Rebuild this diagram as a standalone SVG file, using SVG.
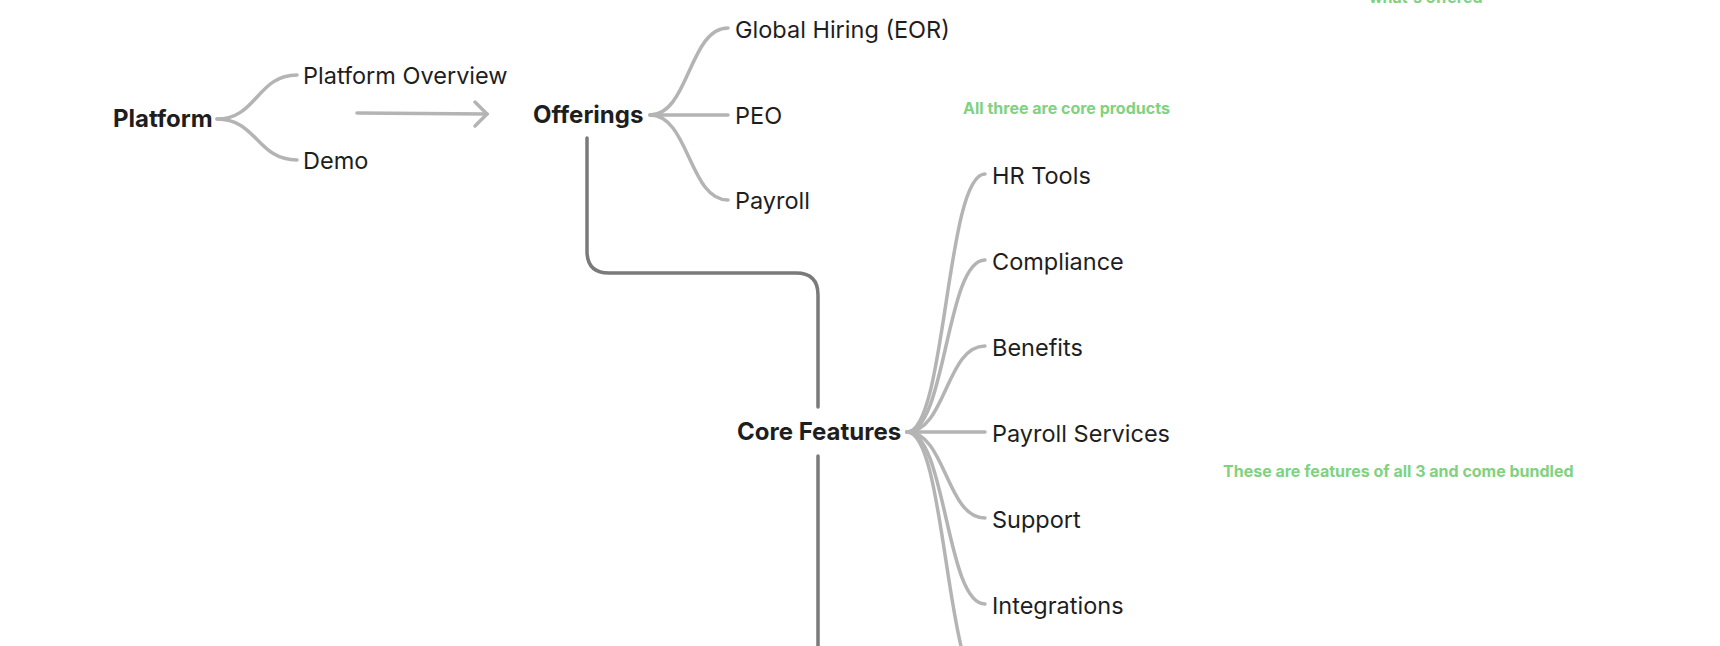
<svg xmlns="http://www.w3.org/2000/svg" width="1720" height="646" viewBox="0 0 1720 646">
<style>
.bold{font-family:Inter,"Liberation Sans",sans-serif;font-weight:700;font-size:24px;fill:#1e1e1e}
.reg{font-family:Inter,"Liberation Sans",sans-serif;font-weight:400;font-size:23.5px;fill:#1e1e1e}
.note{font-family:Inter,"Liberation Sans",sans-serif;font-weight:700;font-size:16px;fill:#80d27f}
.br{fill:none;stroke:#b4b4b4;stroke-width:3.5;stroke-linecap:round}
.main{fill:none;stroke:#7a7a7a;stroke-width:3.5;stroke-linecap:round}
</style>
<rect width="1720" height="646" fill="#ffffff"/>
<g id="connectors">
<path class="br" d="M217 119 C257 119 257 75 297 75"/>
<path class="br" d="M217 119 C257 119 257 160 297 160"/>
<path class="br" d="M357 113 L487 114"/>
<path class="br" d="M475 102 L487 114 L475 126"/>
<path class="br" d="M650 115 C689 115 689 28 728 28"/>
<path class="br" d="M650 115 L728 115"/>
<path class="br" d="M650 115 C689 115 689 200 728 200"/>
<path class="main" d="M587 138 V251 Q587 273 609 273 H796 Q818 273 818 295 V407"/>
<path class="main" d="M818 456 V660"/>
<path class="br" d="M907 432 C946 432 946 174 985 174"/>
<path class="br" d="M907 432 C946 432 946 260 985 260"/>
<path class="br" d="M907 432 C946 432 946 346 985 346"/>
<path class="br" d="M907 432 L985 432"/>
<path class="br" d="M907 432 C946 432 946 518 985 518"/>
<path class="br" d="M907 432 C946 432 946 604 985 604"/>
<path class="br" d="M907 432 C946 432 946 690 985 690"/>
</g>
<g id="platform"><text class="bold" x="113" y="127">Platform</text></g>
<g id="platform-overview"><text class="reg" x="303" y="84">Platform Overview</text></g>
<g id="demo"><text class="reg" x="303" y="169">Demo</text></g>
<g id="offerings"><text class="bold" x="533" y="123">Offerings</text></g>
<g id="global-hiring"><text class="reg" x="735" y="38">Global Hiring (EOR)</text></g>
<g id="peo"><text class="reg" x="735" y="124">PEO</text></g>
<g id="payroll"><text class="reg" x="735" y="209">Payroll</text></g>
<g id="core-features"><text class="bold" x="737" y="440">Core Features</text></g>
<g id="hr-tools"><text class="reg" x="992" y="184">HR Tools</text></g>
<g id="compliance"><text class="reg" x="992" y="270">Compliance</text></g>
<g id="benefits"><text class="reg" x="992" y="356">Benefits</text></g>
<g id="payroll-services"><text class="reg" x="992" y="442">Payroll Services</text></g>
<g id="support"><text class="reg" x="992" y="528">Support</text></g>
<g id="integrations"><text class="reg" x="992" y="614">Integrations</text></g>
<g id="note-offered"><text class="note" x="1369" y="3">what's offered</text></g>
<g id="note-core"><text class="note" x="963" y="114">All three are core products</text></g>
<g id="note-features"><text class="note" x="1223" y="477">These are features of all 3 and come bundled</text></g>
</svg>
